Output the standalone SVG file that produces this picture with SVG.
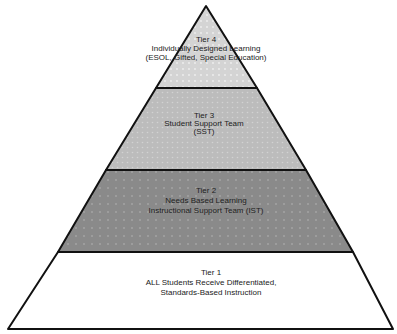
<svg xmlns="http://www.w3.org/2000/svg" width="397" height="334" viewBox="0 0 397 334">
<style>
.t{font-family:"Liberation Sans",Arial,sans-serif;font-size:8px;fill:#222;text-anchor:middle}
.s{stroke:#111;stroke-width:2;stroke-linejoin:round}
</style>
<defs>
<pattern id="d4" width="6" height="6" patternUnits="userSpaceOnUse"><rect width="6" height="6" fill="#d4d4d4"/><circle cx="3" cy="3" r="0.9" fill="#f0f0f0"/></pattern>
<pattern id="d3" width="5" height="5" patternUnits="userSpaceOnUse"><rect width="5" height="5" fill="#bcbcbc"/><circle cx="2.5" cy="2.5" r="0.8" fill="#d2d2d2"/></pattern>
<pattern id="d2" width="8" height="8" patternUnits="userSpaceOnUse"><rect width="8" height="8" fill="#8a8a8a"/><circle cx="4" cy="4" r="1" fill="#a4a4a4"/></pattern>
</defs>
<rect width="397" height="334" fill="#fff"/>
<g id="tier4">
<polygon class="s" points="206,6 156,88 257,88" fill="url(#d4)"/>
<text class="t" x="206" y="42">Tier 4</text>
<text class="t" x="206" y="51">Individually Designed Learning</text>
<text class="t" x="206" y="60">(ESOL, Gifted, Special Education)</text>
</g>
<g id="tier3">
<polygon class="s" points="156,88 257,88 306,170 106,170" fill="url(#d3)"/>
<text class="t" x="204" y="118">Tier 3</text>
<text class="t" x="204" y="126">Student Support Team</text>
<text class="t" x="204" y="134">(SST)</text>
</g>
<g id="tier2">
<polygon class="s" points="106,170 306,170 353,252 58,252" fill="url(#d2)"/>
<text class="t" x="206" y="193">Tier 2</text>
<text class="t" x="206" y="203">Needs Based Learning</text>
<text class="t" x="206" y="213">Instructional Support Team (IST)</text>
</g>
<g id="tier1">
<polygon class="s" points="58,252 353,252 393,329 8,329" fill="#fff"/>
<text class="t" x="211" y="275">Tier 1</text>
<text class="t" x="211" y="285">ALL Students Receive Differentiated,</text>
<text class="t" x="211" y="295">Standards-Based Instruction</text>
</g>
<g id="connectors"/>
</svg>
